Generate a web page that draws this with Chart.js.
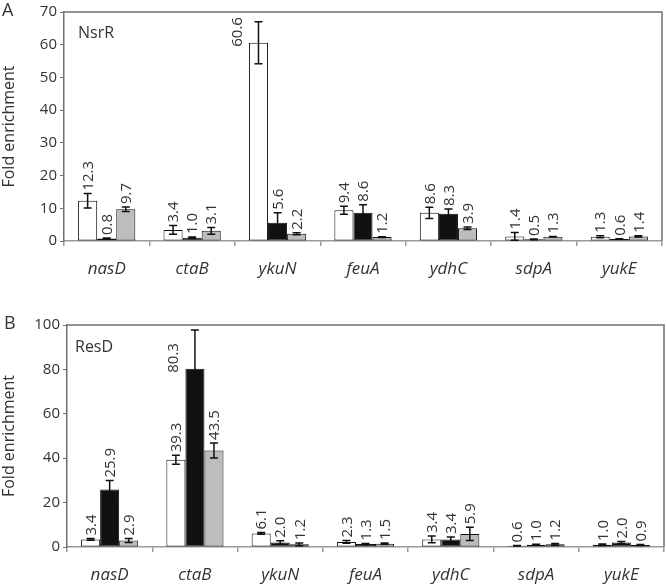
<!DOCTYPE html>
<html lang="en">
<head>
<meta charset="UTF-8">
<title>Fold enrichment NsrR / ResD</title>
<script src="https://cdn.jsdelivr.net/npm/chart.js"></script>
<style>
  body { margin: 0; background: #fff; }
  #wrap { position: relative; width: 666px; height: 587px; }
  canvas { position: absolute; left: 0; }
  #chartA { top: 0; }
  #chartB { top: 290px; }
</style>
</head>
<body>
<div id="wrap">
  <canvas id="chartA" width="666" height="290"></canvas>
  <canvas id="chartB" width="666" height="297"></canvas>
</div>
<script>
  const genes = ['nasD', 'ctaB', 'ykuN', 'feuA', 'ydhC', 'sdpA', 'yukE'];

  // Panel A - NsrR
  const nsrWhite = [12.3, 3.4, 60.6, 9.4, 8.6, 1.4, 1.3];
  const nsrBlack = [0.8, 1.0, 5.6, 8.6, 8.3, 0.5, 0.6];
  const nsrGray  = [9.7, 3.1, 2.2, 1.2, 3.9, 1.3, 1.4];
  const nsrWhiteErr = [2.2, 1.3, 6.4, 1.2, 1.7, 1.2, 0.3];
  const nsrBlackErr = [0.1, 0.2, 3.0, 2.5, 1.5, 0.1, 0.1];
  const nsrGrayErr  = [0.7, 1.0, 0.3, 0.1, 0.4, 0.1, 0.2];

  // Panel B - ResD
  const resWhite = [3.4, 39.3, 6.1, 2.3, 3.4, 0.6, 1.0];
  const resBlack = [25.9, 80.3, 2.0, 1.3, 3.4, 1.0, 2.0];
  const resGray  = [2.9, 43.5, 1.2, 1.5, 5.9, 1.2, 0.9];
  const resWhiteErr = [0.4, 2.0, 0.4, 0.6, 1.5, 0.1, 0.3];
  const resBlackErr = [4.0, 17.4, 0.8, 0.3, 1.1, 0.2, 0.5];
  const resGrayErr  = [0.9, 3.4, 0.6, 0.3, 3.0, 0.4, 0.2];

  const yTicksA = { max: 70, step: 10 };
  const yTicksB = { max: 100, step: 20 };

  const FONT = '"Open Sans", "Noto Sans", sans-serif';
  const TEXT = '#333';

  // error bars, value labels, frame, panel letters
  const extras = {
    id: 'extras',
    afterDatasetsDraw(chart, args, opts) {
      const ctx = chart.ctx;
      const y = chart.scales.y;
      const area = chart.chartArea;
      chart.data.datasets.forEach((ds, di) => {
        const meta = chart.getDatasetMeta(di);
        meta.data.forEach((bar, i) => {
          const v = ds.data[i];
          const e = ds.err[i];
          const x = bar.x;
          const yTop = y.getPixelForValue(v + e);
          const yBot = y.getPixelForValue(Math.max(0, v - e));
          ctx.save();
          ctx.strokeStyle = '#111';
          ctx.lineWidth = 1.5;
          ctx.beginPath();
          ctx.moveTo(x, yTop); ctx.lineTo(x, yBot);
          ctx.moveTo(x - 4, yTop); ctx.lineTo(x + 4, yTop);
          ctx.moveTo(x - 4, yBot); ctx.lineTo(x + 4, yBot);
          ctx.stroke();
          ctx.restore();

          // rotated value label
          const txt = v.toFixed(1);
          ctx.save();
          ctx.font = '15px ' + FONT;
          ctx.fillStyle = TEXT;
          const w = ctx.measureText(txt).width;
          let lx = x, ly = Math.min(bar.y, yTop) - 3;
          if (ly - w < area.top + 2) {
            lx = x - bar.width * 1.15;
            ly = bar.y + 4;
          }
          ctx.translate(lx, ly);
          ctx.rotate(-Math.PI / 2);
          ctx.textAlign = 'left';
          ctx.textBaseline = 'middle';
          ctx.fillText(txt, 0, 1);
          ctx.restore();
        });
      });
    },
    afterDraw(chart, args, opts) {
      const ctx = chart.ctx;
      const a = chart.chartArea;
      ctx.save();
      ctx.strokeStyle = '#707070';
      ctx.lineWidth = 1.5;
      ctx.beginPath();
      ctx.moveTo(a.left, a.top);
      ctx.lineTo(a.right, a.top);
      ctx.lineTo(a.right, a.bottom);
      ctx.stroke();
      ctx.fillStyle = TEXT;
      ctx.textBaseline = 'alphabetic';
      ctx.font = '18px ' + FONT;
      ctx.fillText(opts.letter, opts.letterX, opts.letterY);
      ctx.font = '16px ' + FONT;
      ctx.fillText(opts.name, opts.nameX, opts.nameY);
      ctx.restore();
    }
  };

  function makePanel(id, white, black, gray, wErr, bErr, gErr, ticks, pad, xH, yW, extraOpts) {
    const base = { borderColor: '#111', borderWidth: 1, borderSkipped: false,
                   categoryPercentage: 0.67, barPercentage: 1.0 };
    return new Chart(document.getElementById(id), {
      type: 'bar',
      data: {
        labels: genes,
        datasets: [
          Object.assign({ data: white, err: wErr, backgroundColor: '#ffffff' }, base),
          Object.assign({ data: black, err: bErr, backgroundColor: '#111111' }, base),
          Object.assign({ data: gray, err: gErr, backgroundColor: '#bdbdbd' }, base)
        ]
      },
      options: {
        responsive: false,
        animation: false,
        layout: { padding: pad },
        plugins: { legend: { display: false }, tooltip: { enabled: false }, extras: extraOpts },
        scales: {
          x: {
            afterFit(s) { s.height = xH; },
            grid: { offset: true, drawOnChartArea: false, drawTicks: true, tickLength: 5, color: '#9a9a9a', lineWidth: 1.5 },
            border: { display: true, color: '#9a9a9a', width: 1.5 },
            ticks: { color: TEXT, padding: 13, font: { family: FONT, size: 17, style: 'italic' } }
          },
          y: {
            min: 0, max: ticks.max,
            afterFit(s) { s.width = yW; },
            grid: { drawOnChartArea: false, drawTicks: true, tickLength: 4, color: '#707070' },
            border: { display: true, color: '#707070', width: 1.5 },
            ticks: { stepSize: ticks.step, color: TEXT, padding: 3, font: { family: FONT, size: 15 } },
            title: { display: true, text: 'Fold enrichment', color: TEXT, padding: 0,
                     font: { family: FONT, size: 16 } }
          }
        }
      },
      plugins: [extras]
    });
  }

  makePanel('chartA', nsrWhite, nsrBlack, nsrGray, nsrWhiteErr, nsrBlackErr, nsrGrayErr, yTicksA,
    { top: 11, right: 4, left: 0, bottom: 0 }, 49, 64,
    { letter: 'A', letterX: 2, letterY: 16, name: 'NsrR', nameX: 78, nameY: 38 });

  makePanel('chartB', resWhite, resBlack, resGray, resWhiteErr, resBlackErr, resGrayErr, yTicksB,
    { top: 35, right: 2, left: 0, bottom: 0 }, 40, 67,
    { letter: 'B', letterX: 4, letterY: 39, name: 'ResD', nameX: 75, nameY: 62 });
</script>
</body>
</html>
